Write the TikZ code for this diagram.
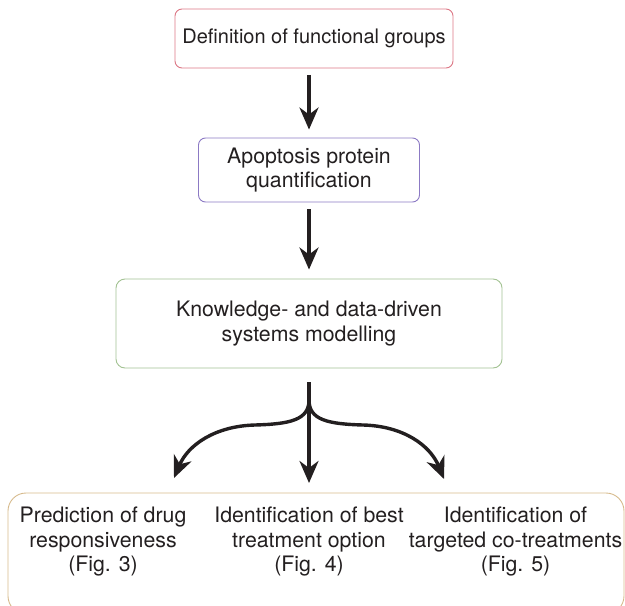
\documentclass[tikz,border=0pt]{standalone}
\usepackage{fontspec}
\setmainfont{TeX Gyre Heros}
\usetikzlibrary{positioning,arrows.meta}
\definecolor{inkblack}{RGB}{35,31,32}
\definecolor{boxred}{RGB}{220,118,132}
\definecolor{boxpurple}{RGB}{140,122,196}
\definecolor{boxgreen}{RGB}{162,194,146}
\definecolor{boxtan}{RGB}{214,186,140}

\begin{document}
\begin{tikzpicture}[x=1bp,y=-1bp,>={Stealth[length=22bp,width=19bp,inset=7bp]},on grid,
    box/.style={draw,rounded corners=7bp,line width=0.9bp,inner sep=0pt,align=center,text=inkblack,font=\fontsize{21.3bp}{24.5bp}\selectfont},
    fig text/.style={inner sep=0pt,align=center,anchor=north,text=inkblack,font=\fontsize{21.3bp}{24.5bp}\selectfont},
    flow/.style={draw=inkblack,line width=3.4bp}]

    \useasboundingbox (0,0) rectangle (625,606);
    \clip (0,0) rectangle (625,606);

    \node[box, draw=boxred, minimum width=278bp, minimum height=59bp, font=\fontsize{20bp}{24bp}\selectfont]  (def) at (314,38.5) {Definition of functional groups};
    \node[box, draw=boxpurple, minimum width=221bp, minimum height=64bp]  (apo) at (309,170) {Apoptosis protein\\quantification};
    \node[box, draw=boxgreen, minimum width=386bp, minimum height=89bp, rounded corners=9bp]  (mod) [below=153.5bp of apo] {Knowledge- and data-driven\\systems modelling};
    \node[box, draw=boxtan, minimum width=616bp, minimum height=121bp, rounded corners=18bp]  (out) at (316,553.5) {};

    \node[fig text]  (drug) at (103,507) {Prediction of drug\\responsiveness\\(Fig. 3)};
    \node[fig text]  (best) at (309,507) {Identification of best\\treatment option\\(Fig. 4)};
    \node[fig text]  (cotr) at (515.5,507) {Identification of\\targeted co-treatments\\(Fig. 5)};

    \coordinate (top1) at (309,75);
    \coordinate (fork) at (309,400);
    \coordinate (ltip) at (174,478);
    \coordinate (mtip) at (309,483);
    \coordinate (rtip) at (444,479);

    \path[every edge/.style={flow, ->}]
        (top1) edge[shorten >=8bp] (apo)
        (apo) edge[shorten <=7bp, shorten >=9bp] (mod)
        (mod) edge[shorten <=14bp] (mtip)
    ;

    \draw[flow, ->] (fork) .. controls (309,420) and (290,424) .. (255,425)
        .. controls (215,426) and (188,445) .. (ltip);
    \draw[flow, ->] (fork) .. controls (309,420) and (328,424) .. (363,425)
        .. controls (403,426) and (430,445) .. (rtip);
\end{tikzpicture}
\end{document}
